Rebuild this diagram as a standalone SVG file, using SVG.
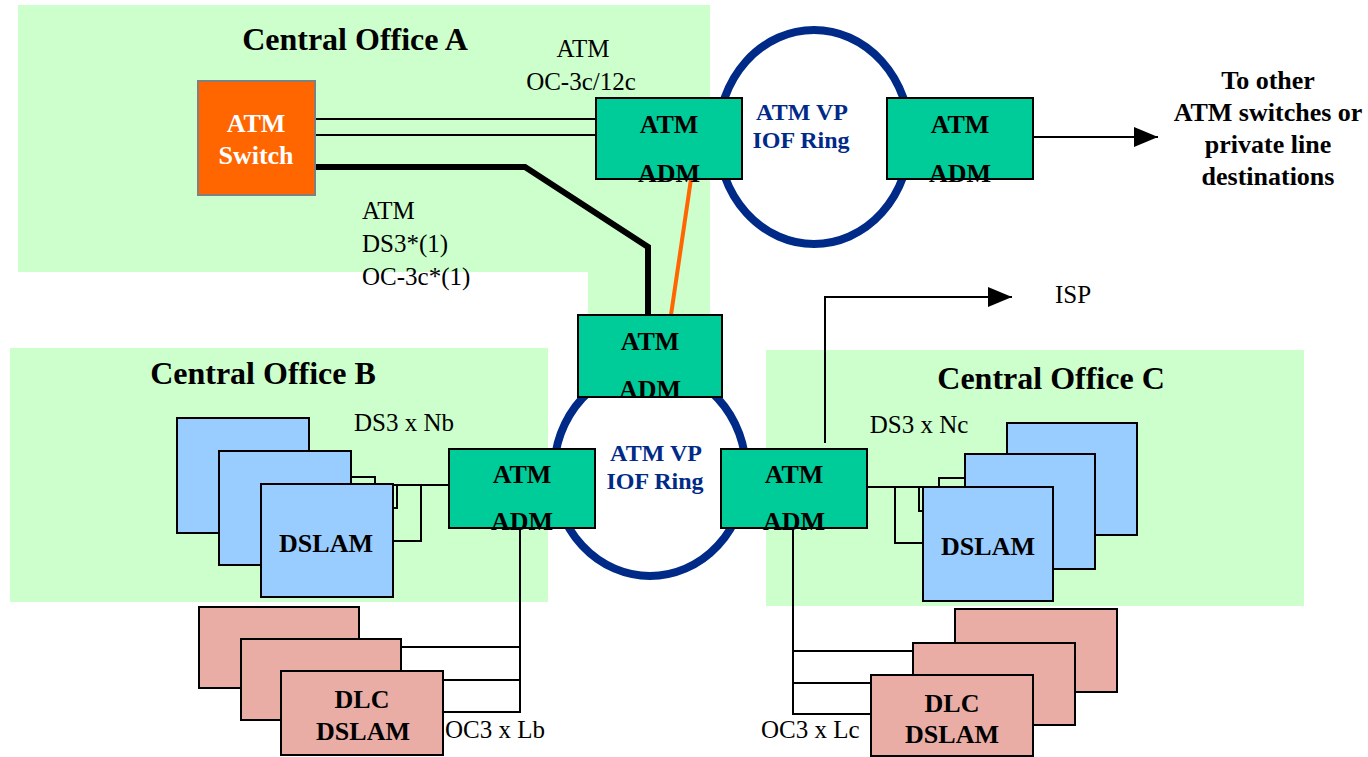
<svg xmlns="http://www.w3.org/2000/svg" width="1368" height="757" viewBox="0 0 1368 757" font-family="'Liberation Serif', serif">
<style>
text{font-family:'Liberation Serif','Times New Roman',serif;fill:#000}
.t{font-size:32px;font-weight:bold}
.b{font-size:26px;font-weight:bold;text-anchor:middle}
.r{font-size:25px}
.rc{font-size:25px;text-anchor:middle}
.ring{fill:none;stroke:#002A88;stroke-width:8}
.ringt{font-size:24px;font-weight:bold;fill:#002A88;text-anchor:middle}
.co{fill:#CCFFCC}
.adm{fill:#00CC99;stroke:#000;stroke-width:2}
.ds{fill:#99CCFF;stroke:#000;stroke-width:2}
.dlc{fill:#EAADA5;stroke:#000;stroke-width:2}
.ln{fill:none;stroke:#000;stroke-width:2}
</style>
<defs>
<marker id="ah" viewBox="0 0 24 20" refX="24" refY="10" markerWidth="24" markerHeight="20" markerUnits="userSpaceOnUse" orient="auto">
<path d="M0,0 L24,10 L0,20 Z" fill="#000"/>
</marker>
</defs>
<rect width="1368" height="757" fill="#fff"/>
<g id="co-a">
<path class="co" d="M18,5 H710 V360 H588 V272 H18 Z"/>
<text class="t" x="355" y="50" text-anchor="middle">Central Office A</text>
</g>
<g id="co-b">
<rect class="co" x="10" y="348" width="538" height="254"/>
<text class="t" x="263" y="384" text-anchor="middle">Central Office B</text>
</g>
<g id="co-c">
<rect class="co" x="766" y="350" width="538" height="256"/>
<text class="t" x="1051" y="389" text-anchor="middle">Central Office C</text>
</g>
<g id="ring-top">
<ellipse class="ring" cx="814" cy="137" rx="96" ry="107"/>
<text class="ringt" x="802" y="120">ATM VP</text>
<text class="ringt" x="801" y="148">IOF Ring</text>
</g>
<g id="ring-bottom">
<ellipse class="ring" cx="650" cy="472" rx="96" ry="104"/>
<text class="ringt" x="656" y="461">ATM VP</text>
<text class="ringt" x="655" y="489">IOF Ring</text>
</g>
<g id="connectors">
<line class="ln" x1="315" y1="119" x2="596" y2="119"/>
<line class="ln" x1="315" y1="135" x2="596" y2="135"/>
<path d="M315,167 H525 L648,247 V315" fill="none" stroke="#000" stroke-width="6" stroke-linejoin="miter"/>
<line x1="691" y1="179" x2="671" y2="315" stroke="#FF6600" stroke-width="4"/>
<path class="ln" d="M1033,137 H1158" marker-end="url(#ah)"/>
<path class="ln" d="M825,443 V297 H1012" marker-end="url(#ah)"/>
<path class="ln" d="M351,485 H449 M351,477 H375 V485 M393,508 H397 V485 M393,541 H421 V485"/>
<path class="ln" d="M867,487 H939 V478 H965 M895,487 V543 H923 M919,487 V511 H923"/>
<path class="ln" d="M520,528 V712 H443 M401,647 H520 M443,680 H520"/>
<path class="ln" d="M793,528 V714 H871 M793,651 H913 M793,683 H871"/>
<text class="rc" x="583" y="57">ATM</text>
<text class="rc" x="581" y="90">OC-3c/12c</text>
<text class="r" x="362" y="219">ATM</text>
<text class="r" x="362" y="252">DS3*(1)</text>
<text class="r" x="362" y="285">OC-3c*(1)</text>
<text class="rc" x="404" y="431">DS3 x Nb</text>
<text class="rc" x="919" y="433">DS3 x Nc</text>
<text class="r" x="445" y="738">OC3 x Lb</text>
<text class="r" x="761" y="738">OC3 x Lc</text>
<text class="r" x="1055" y="303">ISP</text>
</g>
<g id="atm-switch">
<rect x="198" y="81" width="117" height="114" fill="#FF6600" stroke="#808080" stroke-width="2"/>
<text class="b" x="256" y="132" style="fill:#fff">ATM</text>
<text class="b" x="256" y="164" style="fill:#fff">Switch</text>
</g>
<g id="adm-a">
<rect class="adm" x="596" y="98" width="146" height="81"/>
<text class="b" x="669" y="133">ATM</text>
<text class="b" x="669" y="182">ADM</text>
</g>
<g id="adm-right">
<rect class="adm" x="887" y="98" width="146" height="81"/>
<text class="b" x="960" y="133">ATM</text>
<text class="b" x="960" y="182">ADM</text>
</g>
<g id="adm-mid">
<rect class="adm" x="578" y="315" width="144" height="82"/>
<text class="b" x="650" y="350">ATM</text>
<text class="b" x="650" y="398">ADM</text>
</g>
<g id="adm-b">
<rect class="adm" x="449" y="449" width="146" height="79"/>
<text class="b" x="522" y="483">ATM</text>
<text class="b" x="522" y="530">ADM</text>
</g>
<g id="adm-c">
<rect class="adm" x="721" y="449" width="146" height="79"/>
<text class="b" x="794" y="483">ATM</text>
<text class="b" x="794" y="530">ADM</text>
</g>
<g id="dslam-b">
<rect class="ds" x="177" y="418" width="132" height="115"/>
<rect class="ds" x="219" y="451" width="132" height="114"/>
<rect class="ds" x="261" y="484" width="132" height="113"/>
<text class="b" x="326" y="552">DSLAM</text>
</g>
<g id="dslam-c">
<rect class="ds" x="1007" y="423" width="130" height="112"/>
<rect class="ds" x="965" y="454" width="130" height="115"/>
<rect class="ds" x="923" y="487" width="130" height="114"/>
<text class="b" x="988" y="555">DSLAM</text>
</g>
<g id="dlc-b">
<rect class="dlc" x="199" y="607" width="160" height="81"/>
<rect class="dlc" x="241" y="639" width="160" height="81"/>
<rect class="dlc" x="281" y="671" width="162" height="84"/>
<text class="b" x="362" y="708">DLC</text>
<text class="b" x="363" y="740">DSLAM</text>
</g>
<g id="dlc-c">
<rect class="dlc" x="955" y="609" width="162" height="83"/>
<rect class="dlc" x="913" y="643" width="162" height="82"/>
<rect class="dlc" x="871" y="675" width="162" height="81"/>
<text class="b" x="952" y="712">DLC</text>
<text class="b" x="952" y="743">DSLAM</text>
</g>
<g id="destination">
<text class="b" x="1268" y="89">To other</text>
<text class="b" x="1268" y="121">ATM switches or</text>
<text class="b" x="1268" y="153">private line</text>
<text class="b" x="1268" y="185">destinations</text>
</g>
</svg>
